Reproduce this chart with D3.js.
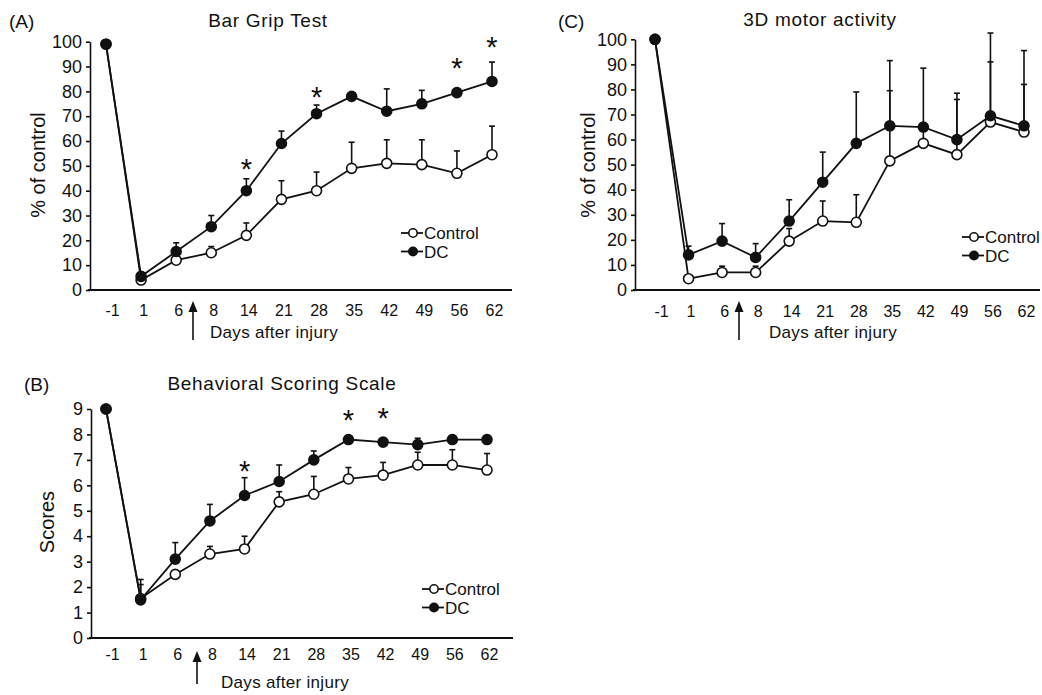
<!DOCTYPE html>
<html>
<head>
<meta charset="utf-8">
<script src="https://cdn.jsdelivr.net/npm/d3@7"></script>
<style>
  body { margin: 0; background: #fff; }
  svg { font-family: "Liberation Sans", Arial, sans-serif; }
  .axis text { font-size: 16px; fill: #111; }
  .axis path, .axis line { stroke: #111; stroke-width: 1.6; }
</style>
</head>
<body>
<div id="chart"></div>
<script>
// days after injury (x categories, shared by all three panels)
var days = ["-1", "1", "6", "8", "14", "21", "28", "35", "42", "49", "56", "62"];

// (A) Bar Grip Test, % of control
var gripControl = [99, 4, 12, 15, 22, 36.5, 40, 49, 51, 50.5, 47, 54.5];
var gripControlSem = [0, 1, 2, 2.5, 5, 7.5, 7.5, 10.5, 9.5, 10, 9, 11.5];
var gripDC = [99, 5.5, 15.5, 25.5, 40, 59, 71, 78, 72, 75, 79.5, 84];
var gripDCSem = [0, 1.5, 3.5, 4.5, 4.8, 5, 3.5, 1, 9, 5.4, 1, 7.8];
var gripStars = [["14", 51], ["28", 80.3], ["56", 92], ["62", 100.4]];
var gripTicks = [0, 10, 20, 30, 40, 50, 60, 70, 80, 90, 100];

// (B) Behavioral Scoring Scale, scores
var scoreControl = [9, 1.55, 2.5, 3.3, 3.5, 5.35, 5.65, 6.25, 6.4, 6.8, 6.8, 6.6];
var scoreControlSem = [0, 0.75, 0.1, 0.3, 0.5, 0.4, 0.7, 0.45, 0.5, 0.5, 0.6, 0.65];
var scoreDC = [9, 1.5, 3.1, 4.6, 5.6, 6.15, 7.0, 7.8, 7.7, 7.6, 7.8, 7.8];
var scoreDCSem = [0, 0.6, 0.65, 0.65, 0.7, 0.65, 0.35, 0.1, 0.15, 0.25, 0.15, 0.1];
var scoreStars = [["14", 6.8], ["35", 8.8], ["42", 8.9]];
var scoreTicks = [0, 1, 2, 3, 4, 5, 6, 7, 8, 9];

// (C) 3D motor activity, % of control
var motorControl = [100, 4.5, 7, 7, 19.5, 27.5, 27, 51.5, 58.5, 54, 67, 63];
var motorControlSem = [0, 1, 2.5, 2.5, 5, 8, 11, 28, 5, 22, 24, 19];
var motorDC = [100, 14, 19.5, 13, 27.5, 43, 58.5, 65.5, 65, 60, 69.5, 65.5];
var motorDCSem = [0, 3.5, 7, 5.5, 8.5, 12, 20.5, 26, 23.5, 18.5, 33, 30];
var motorStars = [];

var w = 1042, h = 695;
var ink = "#111";

var svg = d3.select("#chart").append("svg")
  .attr("width", w)
  .attr("height", h);

function drawPanel(p) {
  var g = svg.append("g");

  var x = d3.scalePoint().domain(days).range([p.px0, p.px1]);
  var y = d3.scaleLinear().domain([0, p.ymax]).range([p.y0, p.y1]);

  // y axis
  g.append("g")
    .attr("class", "axis")
    .attr("transform", "translate(" + p.ax + ",0)")
    .call(d3.axisLeft(y).tickValues(p.ticks).tickSize(4).tickSizeOuter(0).tickPadding(4))
    .selectAll("text").style("font-size", "18px");

  // x axis line + labels
  g.append("line")
    .attr("x1", p.ax - 2).attr("x2", p.axEnd)
    .attr("y1", p.y0).attr("y2", p.y0)
    .attr("stroke", ink).attr("stroke-width", 1.8);

  var xa = g.append("g")
    .attr("class", "axis")
    .attr("transform", "translate(0," + p.y0 + ")")
    .call(d3.axisBottom(x).tickSize(0).tickPadding(p.xpad));
  xa.select(".domain").remove();
  xa.selectAll("text").attr("dx", function(d) { return d == "-1" ? 6 : 2; });

  var series = [
    { vals: p.ctrl, sem: p.ctrlSem, fill: "#fff" },
    { vals: p.dc, sem: p.dcSem, fill: ink }
  ];

  var line = d3.line()
    .x(function(d, i) { return x(days[i]); })
    .y(function(d) { return y(d); });

  series.forEach(function(s) {
    g.append("path")
      .datum(s.vals)
      .attr("fill", "none")
      .attr("stroke", ink)
      .attr("stroke-width", 1.8)
      .attr("d", line);
  });

  series.forEach(function(s) {
    var eb = g.append("g").attr("stroke", ink).attr("stroke-width", 1.6);
    s.vals.forEach(function(v, i) {
      if (!s.sem[i]) return;
      var cx = x(days[i]);
      eb.append("line")
        .attr("x1", cx).attr("x2", cx)
        .attr("y1", y(v)).attr("y2", y(v + s.sem[i]));
      eb.append("line")
        .attr("x1", cx - 3).attr("x2", cx + 3)
        .attr("y1", y(v + s.sem[i])).attr("y2", y(v + s.sem[i]));
    });
  });

  series.forEach(function(s) {
    g.selectAll(null)
      .data(s.vals)
      .enter().append("circle")
      .attr("cx", function(d, i) { return x(days[i]); })
      .attr("cy", function(d) { return y(d); })
      .attr("r", 5)
      .attr("fill", s.fill)
      .attr("stroke", ink)
      .attr("stroke-width", 1.6);
  });

  // significance stars
  g.selectAll(null)
    .data(p.stars)
    .enter().append("text")
    .attr("x", function(d) { return x(d[0]); })
    .attr("y", function(d) { return y(d[1]) + 16; })
    .attr("text-anchor", "middle")
    .style("font-size", "29px")
    .attr("fill", ink)
    .text("*");

  // legend
  var lg = g.append("g").attr("transform", "translate(" + p.lx + "," + p.ly + ")");
  ["Control", "DC"].forEach(function(name, i) {
    var row = lg.append("g").attr("transform", "translate(0," + (i * 18.5) + ")");
    row.append("line").attr("x1", 0).attr("x2", 22).attr("y1", 0).attr("y2", 0)
      .attr("stroke", ink).attr("stroke-width", 1.8);
    row.append("circle").attr("cx", 12).attr("cy", 0).attr("r", 4.2)
      .attr("fill", i == 0 ? "#fff" : ink).attr("stroke", ink).attr("stroke-width", 1.6);
    row.append("text").attr("x", 23).attr("y", 6)
      .style("font-size", "17px").attr("fill", ink).text(name);
  });

  // arrow between day 6 and day 8
  g.append("line")
    .attr("x1", p.arrowX).attr("x2", p.arrowX)
    .attr("y1", p.arrowTop + 8).attr("y2", p.arrowBot)
    .attr("stroke", ink).attr("stroke-width", 1.6);
  g.append("path")
    .attr("d", "M" + (p.arrowX - 4.5) + "," + (p.arrowTop + 11) + "L" + p.arrowX + "," + p.arrowTop +
      "L" + (p.arrowX + 4.5) + "," + (p.arrowTop + 11) + "Z")
    .attr("fill", ink);

  // texts
  g.append("text").attr("x", p.tag[0]).attr("y", p.tag[1])
    .style("font-size", "19px").attr("fill", ink).text(p.tagText);
  g.append("text").attr("x", p.title[0]).attr("y", p.title[1])
    .attr("text-anchor", "middle").style("font-size", "19px").style("letter-spacing", "0.7px")
    .attr("fill", ink).text(p.titleText);
  g.append("text").attr("x", p.xlab[0]).attr("y", p.xlab[1])
    .attr("text-anchor", "middle").style("font-size", "17px").style("letter-spacing", "0.3px")
    .attr("fill", ink).text("Days after injury");
  g.append("text")
    .attr("transform", "translate(" + p.ylab[0] + "," + p.ylab[1] + ") rotate(-90)")
    .attr("text-anchor", "middle").attr("dy", "0.35em").style("font-size", "20px")
    .attr("fill", ink).text(p.ylabText);
}

drawPanel({
  ctrl: gripControl, ctrlSem: gripControlSem, dc: gripDC, dcSem: gripDCSem,
  stars: gripStars, ticks: gripTicks, ymax: 100,
  px0: 106, px1: 492, ax: 90, axEnd: 512, y0: 290, y1: 41.7, xpad: 15,
  lx: 401, ly: 233, arrowX: 193, arrowTop: 301, arrowBot: 340,
  tag: [9, 28], tagText: "(A)", title: [268, 27], titleText: "Bar Grip Test",
  xlab: [274, 338], ylab: [38, 165], ylabText: "% of control"
});

drawPanel({
  ctrl: scoreControl, ctrlSem: scoreControlSem, dc: scoreDC, dcSem: scoreDCSem,
  stars: scoreStars, ticks: scoreTicks, ymax: 9,
  px0: 106, px1: 487, ax: 91, axEnd: 513, y0: 638, y1: 409, xpad: 11,
  lx: 422, ly: 589, arrowX: 197, arrowTop: 651, arrowBot: 684,
  tag: [24, 391], tagText: "(B)", title: [282, 390], titleText: "Behavioral Scoring Scale",
  xlab: [285, 688], ylab: [47, 522], ylabText: "Scores"
});

drawPanel({
  ctrl: motorControl, ctrlSem: motorControlSem, dc: motorDC, dcSem: motorDCSem,
  stars: motorStars, ticks: gripTicks, ymax: 100,
  px0: 655, px1: 1024, ax: 635, axEnd: 1040, y0: 290, y1: 39.3, xpad: 16,
  lx: 962, ly: 237, arrowX: 739, arrowTop: 301, arrowBot: 340,
  tag: [558, 28], tagText: "(C)", title: [820, 26], titleText: "3D motor activity",
  xlab: [833, 338], ylab: [588, 165], ylabText: "% of control"
});
</script>
</body>
</html>
